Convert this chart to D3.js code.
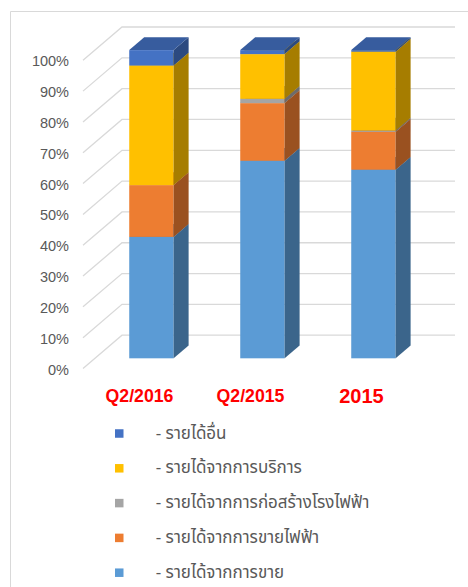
<!DOCTYPE html>
<html>
<head>
<meta charset="utf-8">
<script src="https://cdn.jsdelivr.net/npm/d3@7"></script>
<style>
  body { margin: 0; background: #fff; }
  svg { display: block; }
</style>
</head>
<body>
<svg id="chart" width="468" height="587"></svg>
<script>
// categories (x axis)
var categories = ["Q2/2016", "Q2/2015", "2015"];
// series, stacked bottom -> top, values in percent
var seriesNames = ["รายได้จากการขาย", "รายได้จากการขายไฟฟ้า", "รายได้จากการก่อสร้างโรงไฟฟ้า", "รายได้จากการบริการ", "รายได้อื่น"];
var sales        = [39.4, 64.1, 61.2];
var electricity  = [16.8, 18.7, 12.3];
var construction = [0.0, 1.4, 0.4];
var service      = [38.8, 14.5, 25.6];
var other        = [5.0, 1.3, 0.5];
var yTicks = [0, 10, 20, 30, 40, 50, 60, 70, 80, 90, 100];

var colors = ["#5b9bd5", "#ed7d31", "#a5a5a5", "#ffc000", "#4472c4"];

var svg = d3.select("#chart");

// frame
svg.append("path").attr("d", "M10.5,600V11.5H470")
  .attr("fill", "none").attr("stroke", "#d9d9d9").attr("stroke-width", 1);

// 3d floor geometry
var depthX = 39, depthY = 33.3;   // full floor depth offset
var f0 = 0.306, f1 = 0.69;        // bar front/back position inside the depth

var x = d3.scaleBand().domain(categories).range([84, 417]);
var y = d3.scaleLinear().domain([0, 100]).range([368.5, 60.3]);
var barW = x.step() * 0.4;

// gridlines (side wall diagonal + back wall line)
var grid = svg.append("g");
yTicks.forEach(function(t) {
  var yf = y(t);
  grid.append("path")
    .attr("d", "M83," + yf + "L" + (83 + depthX) + "," + (yf - depthY) + "H455")
    .attr("fill", "none").attr("stroke", "#d9d9d9").attr("stroke-width", 1.3);
});

// y axis labels
svg.append("g").selectAll("text").data(yTicks).enter().append("text")
  .attr("x", 69).attr("y", function(d) { return y(d) + 1; })
  .attr("text-anchor", "end").attr("dominant-baseline", "central")
  .attr("font-family", "Liberation Sans, Arial, sans-serif")
  .attr("font-size", 14.5).attr("fill", "#595959")
  .text(function(d) { return d + "%"; });

// stack
var table = categories.map(function(c, i) {
  return { cat: c, s0: sales[i], s1: electricity[i], s2: construction[i], s3: service[i], s4: other[i] };
});
var stacked = d3.stack().keys(["s0", "s1", "s2", "s3", "s4"])(table);

function shade(c, k) { return d3.color(c).darker(k).formatHex(); }

var dx0 = f0 * depthX, dy0 = f0 * depthY;
var ddx = (f1 - f0) * depthX, ddy = (f1 - f0) * depthY;

var bars = svg.append("g");
categories.forEach(function(cat, i) {
  var L = x(cat) + x.bandwidth() / 2 - barW / 2 + dx0;
  var R = L + barW;
  stacked.forEach(function(layer, k) {
    var d = layer[i];
    if (d[1] - d[0] <= 0) return;
    var yb = y(d[0]) - dy0, yt = y(d[1]) - dy0;
    var g = bars.append("g");
    g.append("rect").attr("x", L).attr("y", yt).attr("width", barW).attr("height", yb - yt)
      .attr("fill", colors[k]);
    g.append("path")
      .attr("d", "M" + R + "," + yb + "L" + (R + ddx) + "," + (yb - ddy) + "L" + (R + ddx) + "," + (yt - ddy) + "L" + R + "," + yt + "Z")
      .attr("fill", shade(colors[k], 1.2));
    g.append("path")
      .attr("d", "M" + L + "," + yt + "L" + (L + ddx) + "," + (yt - ddy) + "L" + (R + ddx) + "," + (yt - ddy) + "L" + R + "," + yt + "Z")
      .attr("fill", shade(colors[k], 0.6));
  });
});

// category labels
svg.append("g").selectAll("text").data(categories).enter().append("text")
  .attr("x", function(d) { return x(d) + x.bandwidth() / 2; })
  .attr("y", 396)
  .attr("text-anchor", "middle").attr("dominant-baseline", "central")
  .attr("font-family", "Liberation Sans, Arial, sans-serif")
  .attr("font-weight", "bold").attr("fill", "#ff0000")
  .attr("font-size", function(d) { return d == "2015" ? 20 : 17.7; })
  .text(function(d) { return d; });

// legend (reverse order: top of stack first)
var legend = svg.append("g");
var legendOrder = d3.range(seriesNames.length).reverse();
legendOrder.forEach(function(k, j) {
  var cy = 433.5 + j * 34.8;
  legend.append("rect").attr("x", 115).attr("y", cy - 4.25).attr("width", 8.5).attr("height", 8.5)
    .attr("fill", colors[k]);
  legend.append("text").attr("x", 155.7).attr("y", cy)
    .attr("dominant-baseline", "central")
    .attr("font-family", "Noto Sans Thai, Noto Sans, sans-serif")
    .attr("font-size", 17).attr("fill", "#595959")
    .text("- " + seriesNames[k]);
});
</script>
</body>
</html>
